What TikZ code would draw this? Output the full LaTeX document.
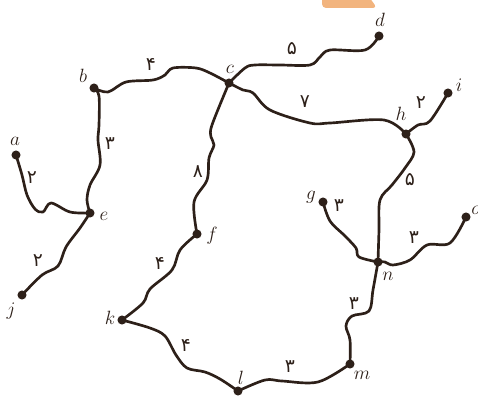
\documentclass[tikz,border=0pt]{standalone}
\usepackage{fontspec}
\newfontfamily\fa[Script=Arabic]{DejaVu Sans}
\definecolor{ink}{HTML}{2D2019}
\definecolor{tab}{HTML}{F2B47E}
\begin{document}
\begin{tikzpicture}[x=0.75pt,y=-0.75pt,
 dot/.style={circle,fill=ink,inner sep=0pt,minimum size=6.8pt},
 road/.style={draw=ink,line width=2pt,line join=round,line cap=round},
 lbl/.style={font=\fontsize{15}{17}\selectfont,text=ink,inner sep=0pt},
 num/.style={font=\fa\fontsize{14}{16}\selectfont,text=ink,inner sep=0pt}]
\useasboundingbox (0,0) rectangle (478,399);
\fill[tab,rounded corners=3pt] (322,-6) -- (322,8) -- (377,8) -- (367,-6) -- cycle;
% nodes
\node[dot] (a) at (16,155) {};
\node[dot] (b) at (94,88) {};
\node[dot] (c) at (229,83) {};
\node[dot] (d) at (379,36) {};
\node[dot] (e) at (90,213) {};
\node[dot] (f) at (197,234) {};
\node[dot] (g) at (323,202) {};
\node[dot] (h) at (406,134) {};
\node[dot] (i) at (448,93) {};
\node[dot] (j) at (22,295) {};
\node[dot] (k) at (122,320) {};
\node[dot] (l) at (238,391) {};
\node[dot] (m) at (350,364) {};
\node[dot] (n) at (378,262) {};
\node[dot] (o) at (466,217) {};
% letters
\node[lbl] (la) at (15,141) {$a$};
\node[lbl] (lb) at (83,76) {$b$};
\node[lbl] (lc) at (230,69) {$c$};
\node[lbl] (ld) at (380,20) {$d$};
\node[lbl] (le) at (104,216) {$e$};
\node[lbl] (lf) at (212,236) {$f$};
\node[lbl] (lg) at (311,197) {$g$};
\node[lbl] (lh) at (401,114) {$h$};
\node[lbl] (li) at (459,85) {$i$};
\node[lbl] (lj) at (11,311) {$j$};
\node[lbl] (lk) at (110,318) {$k$};
\node[lbl] (ll) at (241,378) {$l$};
\node[lbl] (lm) at (362,375) {$m$};
\node[lbl] (ln) at (388,276) {$n$};
\node[lbl] (lo) at (476,210) {$o$};
% roads
\draw[road] plot[smooth,tension=0.55] coordinates {(b.center) (108,92) (126,82) (153,80) (165,75) (173,68) (196,68) (210,73) (229,83)};
\draw[road] plot[smooth,tension=0.55] coordinates {(b.center) (99,96) (99,125) (98,140) (100,165) (90,185) (87,200) (e.center)};
\draw[road] plot[smooth,tension=0.55] coordinates {(a.center) (22,175) (27,195) (35,209) (43,212) (51,203) (70,212) (e.center)};
\draw[road] plot[smooth,tension=0.55] coordinates {(e.center) (80,228) (66,247) (58,266) (42,275) (j.center)};
\draw[road] plot[smooth,tension=0.55] coordinates {(c.center) (212,125) (211,137) (214,145) (209,158) (207,180) (194,202) (f.center)};
\draw[road] plot[smooth,tension=0.55] coordinates {(f.center) (180,250) (172,270) (150,289) (143,303) (k.center)};
\draw[road] plot[smooth,tension=0.55] coordinates {(k.center) (150,328) (165,336) (176,355) (187,368) (205,372) (220,379) (l.center)};
\draw[road] plot[smooth,tension=0.55] coordinates {(l.center) (265,380) (282,381) (318,382) (m.center)};
\draw[road] plot[smooth,tension=0.55] coordinates {(m.center) (350,340) (346,326) (352,316) (369,311) (373,290) (n.center)};
\draw[road] plot[smooth,tension=0.55] coordinates {(c.center) (245,68) (255,65) (280,65) (310,65) (320,57) (330,50) (365,50) (d.center)};
\draw[road] plot[smooth,tension=0.55] coordinates {(c.center) (243,90) (253,93) (270,110) (310,123) (330,123) (384,120) (h.center)};
\draw[road] plot[smooth,tension=0.55] coordinates {(h.center) (418,125) (430,121) (i.center)};
\draw[road] plot[smooth,tension=0.55] coordinates {(h.center) (414,152) (405,168) (392,185) (380,200) (379,230) (n.center)};
\draw[road] plot[smooth,tension=0.55] coordinates {(g.center) (330,221) (345,236) (356,248) (359,257) (n.center)};
\draw[road] plot[smooth,tension=0.55] coordinates {(n.center) (385,262) (393,265) (410,260) (427,245) (450,243) (o.center)};
% weights
\node[num] (w1) at (151,64) {۴};
\node[num] (w2) at (110,144) {۳};
\node[num] (w3) at (32,178) {۲};
\node[num] (w4) at (38,261) {۲};
\node[num] (w5) at (198,172) {۸};
\node[num] (w6) at (160,263) {۴};
\node[num] (w7) at (186,345) {۴};
\node[num] (w8) at (290,367) {۳};
\node[num] (w9) at (354,304) {۳};
\node[num] (w10) at (292,49) {۵};
\node[num] (w11) at (305,102) {۷};
\node[num] (w12) at (421,103) {۲};
\node[num] (w13) at (410,180) {۵};
\node[num] (w14) at (339,206) {۳};
\node[num] (w15) at (414,238) {۳};
\end{tikzpicture}
\end{document}
